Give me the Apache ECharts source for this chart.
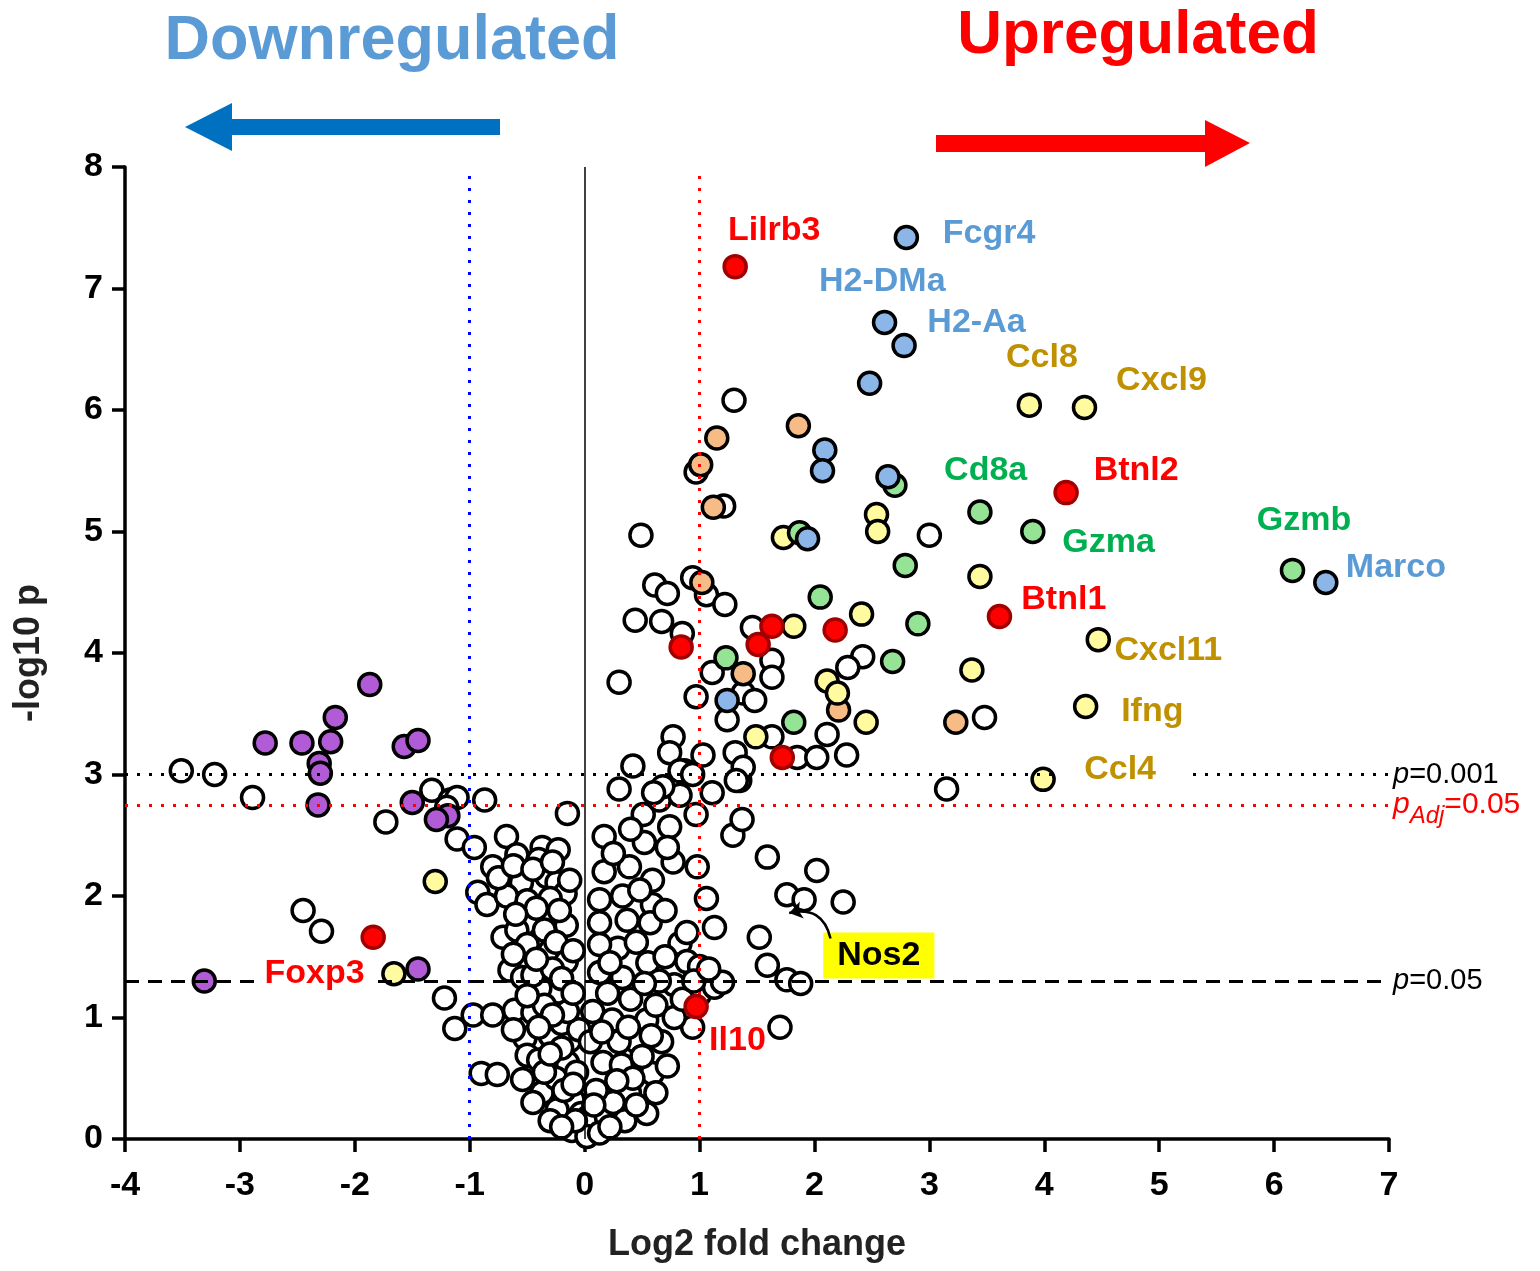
<!DOCTYPE html>
<html><head><meta charset="utf-8">
<script src="https://cdn.jsdelivr.net/npm/echarts@6/dist/echarts.min.js"></script>
<style>html,body{margin:0;padding:0;background:#fff}#c{width:1540px;height:1271px}</style>
</head><body><div id="c"></div>
<script>
// ---------- DATA (log2 fold change, -log10 p) ----------
const xTickValues = [-4,-3,-2,-1,0,1,2,3,4,5,6,7];
const yTickValues = [0,1,2,3,4,5,6,7,8];

const otherGenes = [
 [-3.51,3.03],[-3.22,3.00],[-2.89,2.81],[-1.73,2.61],[-2.45,1.88],[-2.29,1.71],
 [-1.33,2.87],[-1.17,2.79],[-1.11,2.81],[-0.87,2.79],[-1.20,2.73],[-0.15,2.68],
 [-1.11,2.47],[-0.96,2.40],[-0.80,2.24],[-0.68,2.49],[-0.59,2.34],[-0.37,2.40],[-0.23,2.38],[-0.40,2.30],
 [-0.93,2.03],[-0.85,1.93],[-0.55,2.11],[-0.68,2.00],[-0.33,2.16],[-0.24,2.11],[-0.17,2.02],[-0.13,2.13],[-0.50,1.96],[-0.30,1.98],
 [-0.46,1.78],[-0.39,1.64],[-0.71,1.66],[-0.59,1.72],[-0.16,1.76],[-0.50,1.60],[-0.30,1.55],
 [-0.16,1.46],[-0.57,1.45],[-0.65,1.39],[-0.54,1.33],[-0.33,1.31],[-0.22,1.21],[-0.39,1.24],[-0.45,1.35],[-0.28,1.40],
 [-1.22,1.16],[-1.13,0.91],[-0.97,1.02],[-0.80,1.02],[-0.61,1.06],[-0.45,1.04],[-0.35,1.10],
 [-0.52,0.83],[-0.50,0.69],[-0.90,0.54],[-0.76,0.53],[-0.54,0.49],[-0.37,0.38],[-0.40,0.65],[-0.30,0.85],
 [-0.13,0.81],[-0.15,0.63],[-0.10,0.32],[-0.24,0.24],[-0.03,0.21],[0.03,0.18],[-0.11,0.07],[0.02,0.02],
 [-0.20,0.95],[-0.05,0.90],[-0.25,0.50],[-0.18,0.40],[-0.08,0.15],[-0.30,0.15],[-0.15,1.05],[-0.07,0.55],
 [-0.75,2.15],[-0.62,2.25],[-0.45,2.22],[-0.28,2.28],[-0.42,1.90],[-0.22,1.88],[-0.60,1.85],[-0.35,1.72],
 [-0.25,1.62],[-0.10,1.55],[-0.62,1.52],[-0.42,1.48],[-0.20,1.32],[-0.10,1.20],[-0.50,1.18],[-0.28,1.02],
 [-0.40,0.92],[-0.20,0.75],[-0.35,0.55],[-0.45,0.30],[-0.20,0.10],[-0.10,0.45],[-0.30,0.70],[-0.62,0.90],
 [0.30,2.88],[0.17,2.49],[0.51,2.67],[0.65,2.79],[0.83,2.83],[0.97,2.67],[1.11,2.85],[1.35,2.95],[0.74,2.57],[0.52,2.44],[1.29,2.50],[1.37,2.63],[1.59,2.32],
 [0.17,2.20],[0.39,2.24],[0.59,2.13],[0.77,2.28],[0.98,2.24],[1.06,1.98],[0.13,1.97],[0.33,2.00],[0.59,1.93],
 [0.13,1.78],[0.37,1.80],[0.57,1.78],[0.83,1.61],[0.89,1.70],[1.13,1.74],[0.29,1.57],[0.55,1.45],[0.13,1.60],
 [0.13,1.37],[0.33,1.33],[0.89,1.46],[1.00,1.42],[0.78,1.27],[1.00,1.19],[1.13,1.25],[1.20,1.29],[0.65,1.30],
 [1.52,1.66],[1.59,1.43],[1.76,1.31],[1.88,1.28],[1.70,0.92],[0.94,0.92],[1.76,2.01],[1.91,1.97],[2.02,2.21],[2.25,1.95],
 [0.07,1.05],[0.24,0.98],[0.54,0.98],[0.67,0.80],[0.16,0.63],[0.32,0.61],[0.59,0.54],[0.39,0.38],[0.54,0.21],[0.19,0.18],
 [0.05,0.80],[0.45,0.80],[0.30,0.80],[0.42,0.50],[0.25,0.30],[0.10,0.40],[0.35,0.15],[0.13,0.05],
 [0.20,1.20],[0.40,1.15],[0.52,1.28],[0.70,1.50],[0.45,1.62],[0.22,1.45],[0.70,1.88],[0.48,2.05],[0.25,2.35],
 [0.72,2.40],[0.40,2.55],[0.62,1.10],[0.78,1.00],[0.85,1.15],[0.15,0.88],[0.38,0.92],[0.50,0.68],[0.28,0.48],
 [0.62,0.38],[0.45,0.28],[0.08,0.28],[0.22,0.10],[0.58,0.85],[0.72,0.60],[0.95,1.30],[1.08,1.40],
 [1.30,6.08],[0.97,5.49],[1.21,5.21],[0.49,4.97],[3.00,4.97],
 [0.61,4.56],[0.72,4.49],[0.94,4.62],[1.06,4.48],[1.22,4.40],[0.44,4.27],[0.67,4.26],[0.85,4.16],
 [1.46,4.21],[1.63,3.94],[1.63,3.80],[1.11,3.84],[0.30,3.76],[0.97,3.64],[1.38,3.67],[1.48,3.61],[1.24,3.45],
 [2.42,3.97],[2.29,3.88],[2.11,3.33],[0.77,3.31],[0.74,3.18],[0.42,3.07],
 [1.63,3.31],[1.85,3.14],[2.02,3.14],[2.28,3.16],[3.48,3.47],[3.15,2.88],
 [0.87,3.03],[1.03,3.16],[1.31,3.18],[1.38,3.06],[1.32,2.95],[0.68,2.90],[0.83,3.03],[0.94,3.00],[0.60,2.85]
];
const redGenes = [[1.31,7.18],[4.19,5.32],[3.61,4.30],[1.63,4.22],[2.18,4.19],[0.84,4.05],[1.51,4.07],[1.72,3.14],[-1.84,1.66],[0.97,1.09]];
const blueGenes = [[2.80,7.42],[2.61,6.72],[2.78,6.53],[2.48,6.22],[2.09,5.67],[2.07,5.50],[2.64,5.45],[1.94,4.94],[6.45,4.58],[1.24,3.61]];
const greenGenes = [[2.70,5.38],[3.44,5.16],[3.90,5.00],[2.79,4.72],[2.05,4.46],[2.90,4.24],[2.68,3.93],[1.23,3.96],[1.82,3.43],[6.16,4.68],[1.87,4.99]];
const yellowGenes = [[3.87,6.04],[4.35,6.02],[2.54,5.14],[2.55,5.00],[1.73,4.95],[3.44,4.63],[2.41,4.32],[1.82,4.22],[4.47,4.11],[3.37,3.86],[2.11,3.77],[2.20,3.67],[2.45,3.43],[4.36,3.56],[1.49,3.31],[3.99,2.96],[-1.30,2.12],[-1.66,1.36]];
const orangeGenes = [[1.15,5.77],[1.86,5.87],[1.01,5.55],[1.12,5.20],[1.38,3.83],[2.21,3.53],[3.23,3.43],[1.02,4.58]];
const purpleGenes = [[-1.87,3.74],[-2.17,3.47],[-2.78,3.26],[-2.46,3.26],[-2.21,3.27],[-2.31,3.09],[-2.30,3.01],[-2.32,2.75],[-1.57,3.23],[-1.45,3.28],[-1.50,2.77],[-1.19,2.66],[-1.29,2.63],[-3.31,1.30],[-1.45,1.40]];

// gene label anchors (data coordinates)
const geneLabelNames = ['Lilrb3','Fcgr4','H2-DMa','H2-Aa','Ccl8','Cxcl9','Cd8a','Btnl2','Gzmb','Gzma','Marco','Btnl1','Cxcl11','Ifng','Ccl4','Foxp3','Il10','Nos2'];
const geneLabelX     = [1.65, 3.52, 2.59, 3.41, 3.98, 5.02, 3.49, 4.80, 6.26, 4.56, 7.06, 4.17, 5.08, 4.94, 4.66, -2.35, 1.33, 2.56];
const geneLabelY     = [7.48, 7.45, 7.06, 6.72, 6.43, 6.24, 5.50, 5.50, 5.09, 4.91, 4.70, 4.44, 4.02, 3.52, 3.04, 1.36, 0.81, 1.51];
const geneLabelGroup = ['red','blue','blue','blue','gold','gold','green','red','green','green','blue','red','gold','gold','gold','red','red','nos'];

// Nos2 pointer: from label corner to the gene's point
const nos2Arrow = [[2.14, 1.65], [1.78, 1.86]];

// thresholds
const pThreshold001 = 3;        // -log10(0.001)
const pAdjThreshold = 2.75;
const pThreshold05 = 1.301;     // -log10(0.05)
const fcThresholds = [-1, 0, 1];

// ---------- CHART ----------
const FONT = '"Liberation Sans", Arial, sans-serif';
const labelColors = {red:'#FF0000', blue:'#5B9BD5', gold:'#BF9000', green:'#00B050', nos:'#000000'};
const chart = echarts.init(document.getElementById('c'), null, {renderer:'canvas'});

function pointSeries(data, fill, border, z) {
  return {
    type:'scatter', data, z, symbol:'circle', symbolSize:22,
    itemStyle:{color:fill, borderColor:border, borderWidth:3.5, opacity:1},
    emphasis:{disabled:true}, silent:true
  };
}

const labelData = geneLabelNames.map((n,i) => {
  const g = geneLabelGroup[i];
  const item = {name:n, value:[geneLabelX[i], geneLabelY[i]], label:{color:labelColors[g]}};
  if (n === 'Ccl4') { item.label.backgroundColor = '#fff'; item.label.padding = [4, 28]; }
  if (n === 'Foxp3') { item.label.backgroundColor = '#fff'; item.label.padding = [4, 8]; }
  if (n === 'Nos2') { item.label.backgroundColor = '#FFFF00'; item.label.padding = [7, 14, 5, 14]; }
  return item;
});

const dotted = [3, 9];
const option = {
  animation:false,
  backgroundColor:'#fff',
  grid:{left:125, right:151, top:167, bottom:132, containLabel:false},
  xAxis:{
    type:'value', min:-4, max:7, interval:1,
    name:'Log2 fold change', nameLocation:'middle', nameGap:88,
    nameTextStyle:{fontSize:36, fontWeight:'bold', color:'#222', fontFamily:FONT},
    axisLine:{show:true, onZero:false, lineStyle:{color:'#000', width:3.5}},
    axisTick:{show:true, length:13, lineStyle:{color:'#000', width:3.5}},
    axisLabel:{fontSize:34, fontWeight:'bold', color:'#000', margin:30, fontFamily:FONT,
      formatter: v => xTickValues.includes(v) ? String(v) : ''},
    splitLine:{show:false}
  },
  yAxis:{
    type:'value', min:0, max:8, interval:1,
    name:'-log10 p', nameLocation:'middle', nameGap:78, nameRotate:90,
    nameTextStyle:{fontSize:36, fontWeight:'bold', color:'#222', fontFamily:FONT},
    axisLine:{show:true, onZero:false, lineStyle:{color:'#000', width:3.5}},
    axisTick:{show:true, length:13, lineStyle:{color:'#000', width:3.5}},
    axisLabel:{fontSize:34, fontWeight:'bold', color:'#000', margin:22, fontFamily:FONT,
      formatter: v => yTickValues.includes(v) ? String(v) : ''},
    splitLine:{show:false}
  },
  series:[
    { // reference lines
      type:'scatter', data:[], z:1, silent:true,
      markLine:{
        silent:true, symbol:['none','none'], animation:false,
        label:{show:false},
        data:[
          {xAxis:fcThresholds[1], lineStyle:{color:'#000', width:1.5, type:'solid'}},
          {xAxis:fcThresholds[0], lineStyle:{color:'#0000FF', width:3, type:dotted}},
          {xAxis:fcThresholds[2], lineStyle:{color:'#FF0000', width:3, type:dotted}},
          {yAxis:pThreshold001, lineStyle:{color:'#000', width:3, type:dotted},
            label:{show:true, position:'end', distance:4, formatter:'{i|p}=0.001', color:'#000', fontSize:29, fontFamily:FONT,
              rich:{i:{fontStyle:'italic', fontSize:29, color:'#000', fontFamily:FONT}}}},
          {yAxis:pAdjThreshold, lineStyle:{color:'#FF0000', width:3, type:dotted},
            label:{show:true, position:'end', distance:4, formatter:'{i|p}{s|Adj}=0.05', color:'#FF0000', fontSize:30, fontFamily:FONT,
              rich:{i:{fontStyle:'italic', fontSize:30, color:'#FF0000', fontFamily:FONT, lineHeight:46, verticalAlign:'middle'},
                    s:{fontStyle:'italic', fontSize:24, color:'#FF0000', fontFamily:FONT, lineHeight:46, verticalAlign:'bottom'}}}},
          {yAxis:pThreshold05, lineStyle:{color:'#000', width:3, type:[14,9]},
            label:{show:true, position:'end', distance:4, formatter:'{i|p}=0.05', color:'#000', fontSize:29, fontFamily:FONT,
              rich:{i:{fontStyle:'italic', fontSize:29, color:'#000', fontFamily:FONT}}}}
        ]
      }
    },
    pointSeries(otherGenes, '#FFFFFF', '#000000', 3),
    pointSeries(orangeGenes, '#F7BC85', '#000000', 4),
    pointSeries(purpleGenes, '#B15BD6', '#000000', 4),
    pointSeries(yellowGenes, '#FFFB9E', '#000000', 4),
    pointSeries(greenGenes, '#95E495', '#000000', 4),
    pointSeries(blueGenes, '#8DB6E8', '#000000', 4),
    pointSeries(redGenes, '#FF0000', '#A00000', 5),
    { // gene labels
      type:'scatter', z:10, clip:false, silent:true, symbolSize:0,
      itemStyle:{opacity:1},
      data:labelData,
      label:{show:true, position:'inside', formatter:p=>p.name, fontSize:34, fontWeight:'bold', fontFamily:FONT,
        opacity:1, textBorderWidth:0}
    },
    { // curved pointer to Nos2
      type:'lines', coordinateSystem:'cartesian2d', z:12, silent:true,
      symbol:['none','arrow'], symbolSize:[0,13],
      lineStyle:{color:'#000', width:2.5, opacity:1, curveness:-0.5},
      data:[{coords:nos2Arrow}]
    }
  ],
  graphic:[
    {type:'text', x:392, y:42, silent:true, style:{text:'Downregulated', align:'center', verticalAlign:'middle',
      fontSize:63, fontWeight:'bold', fontFamily:FONT, fill:'#5B9BD5'}},
    {type:'text', x:1138, y:36, silent:true, style:{text:'Upregulated', align:'center', verticalAlign:'middle',
      fontSize:62, fontWeight:'bold', fontFamily:FONT, fill:'#FF0000'}},
    {type:'polygon', silent:true, shape:{points:[[185,127],[232,103],[232,119],[500,119],[500,135],[232,135],[232,151]]},
      style:{fill:'#0070C0'}},
    {type:'polygon', silent:true, shape:{points:[[936,135],[1205,135],[1205,120],[1250,143],[1205,167],[1205,152],[936,152]]},
      style:{fill:'#FF0000'}}
  ]
};
chart.setOption(option);
</script>
</body></html>
